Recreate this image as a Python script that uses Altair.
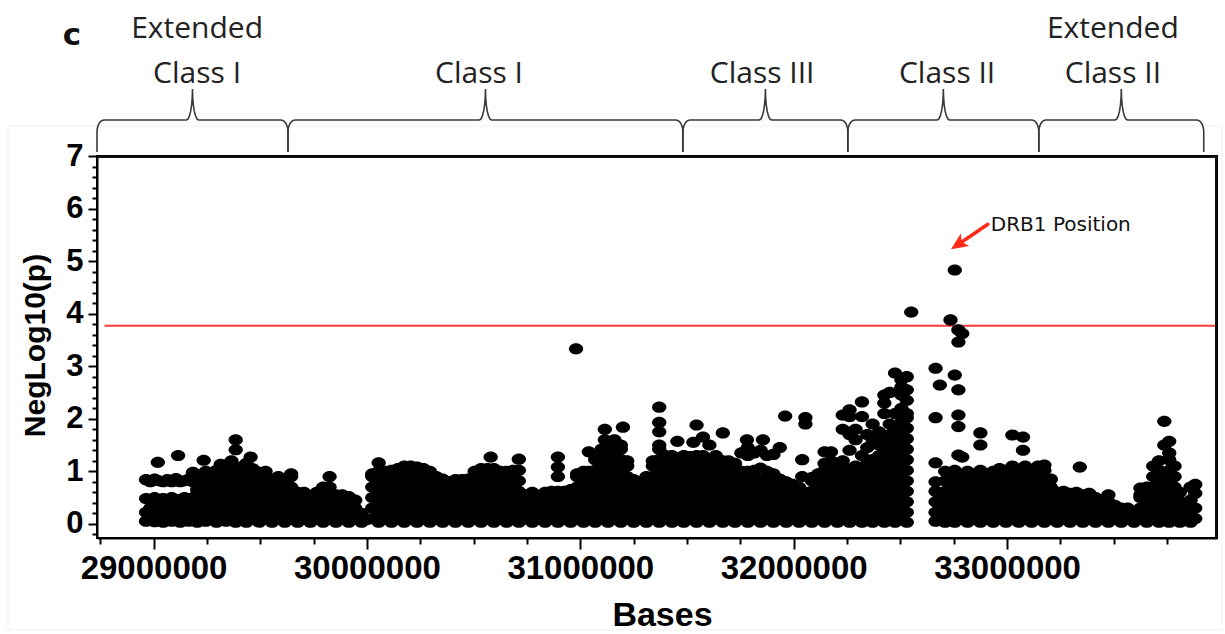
import math
import altair as alt
import pandas as pd

# ---------------- data (positions in kb, values = -log10 p) ----------------
ext_class1 = {
    28965: [0.05, 0.22, 0.48, 0.84], 28985: [0.12, 0.3, 0.46, 0.8],
    29005: [0.04, 0.2, 0.5, 0.85], 29020: [1.17], 29025: [0.1, 0.28, 0.46, 0.82],
    29045: [0.03, 0.2, 0.48, 0.8], 29065: [0.12, 0.3, 0.45, 0.84],
    29085: [0.05, 0.22, 0.5, 0.8], 29105: [0.1, 0.28, 0.46, 0.86], 29115: [1.3],
    29125: [0.03, 0.2, 0.45, 0.8], 29145: [0.12, 0.3, 0.5, 0.82],
    29165: [0.05, 0.22, 0.46, 0.85], 29185: [0.1, 0.28, 0.5, 0.8, 0.98],
    29205: [0.03, 0.2, 0.45, 0.65, 0.84], 29225: [0.12, 0.3, 0.5, 0.7, 0.9], 29235: [1.21],
    29245: [0.05, 0.22, 0.42, 0.62, 0.82, 1.0], 29270: [0.12, 0.32, 0.52, 0.72, 0.92],
    29295: [0.03, 0.22, 0.42, 0.62, 0.82, 1.02], 29315: [0.1, 0.3, 0.5, 0.7, 0.9, 1.13],
    29340: [0.05, 0.22, 0.42, 0.62, 0.82, 1.0],
    29365: [0.1, 0.3, 0.5, 0.7, 0.9, 1.05, 1.2],
    29385: [0.03, 0.22, 0.42, 0.62, 0.82, 1.02, 1.41, 1.6],
    29410: [0.1, 0.3, 0.5, 0.7, 0.9, 1.08],
    29435: [0.03, 0.22, 0.42, 0.62, 0.82, 1.0, 1.15], 29455: [1.27],
    29465: [0.1, 0.3, 0.5, 0.7, 0.9, 1.05], 29495: [0.03, 0.22, 0.42, 0.62, 0.82, 0.98],
    29525: [0.1, 0.3, 0.5, 0.7, 0.9, 1.0], 29555: [0.03, 0.22, 0.42, 0.62, 0.85],
    29585: [0.1, 0.3, 0.5, 0.7, 0.9], 29615: [0.03, 0.22, 0.42, 0.62, 0.82],
}
class1 = {
    29645: [0.1, 0.3, 0.5, 0.7, 0.9, 0.95], 29675: [0.03, 0.22, 0.42, 0.6],
    29705: [0.1, 0.3, 0.5, 0.6], 29735: [0.03, 0.22, 0.42, 0.5],
    29765: [0.1, 0.3, 0.5, 0.6], 29795: [0.03, 0.22, 0.42, 0.62, 0.7],
    29825: [0.1, 0.3, 0.5, 0.7, 0.9], 29855: [0.03, 0.22, 0.42, 0.55],
    29885: [0.1, 0.3, 0.5, 0.55], 29915: [0.03, 0.22, 0.42, 0.52],
    29945: [0.1, 0.3, 0.45], 29975: [0.03, 0.2], 30000: [0.08],
    30025: [0.1, 0.3, 0.5, 0.7, 0.9, 0.95], 30055: [0.03, 0.22, 0.42, 0.62, 0.82, 1.0, 1.16],
    30085: [0.1, 0.3, 0.5, 0.7, 0.9, 1.0], 30115: [0.03, 0.22, 0.42, 0.62, 0.82, 1.02],
    30145: [0.1, 0.3, 0.5, 0.7, 0.9, 1.05], 30175: [0.03, 0.22, 0.42, 0.62, 0.82, 1.02, 1.1],
    30205: [0.1, 0.3, 0.5, 0.7, 0.9, 1.1], 30235: [0.03, 0.22, 0.42, 0.62, 0.82, 1.02, 1.08],
    30265: [0.1, 0.3, 0.5, 0.7, 0.9, 1.05], 30295: [0.03, 0.22, 0.42, 0.62, 0.82, 1.0],
    30325: [0.1, 0.3, 0.5, 0.7, 0.9], 30355: [0.03, 0.22, 0.42, 0.62, 0.85],
    30385: [0.1, 0.3, 0.5, 0.7, 0.8], 30415: [0.03, 0.22, 0.42, 0.62, 0.84],
    30445: [0.1, 0.3, 0.5, 0.7, 0.84], 30475: [0.03, 0.22, 0.42, 0.62, 0.85],
    30505: [0.1, 0.3, 0.5, 0.7, 0.9, 1.0], 30535: [0.03, 0.22, 0.42, 0.62, 0.82, 1.05],
    30565: [0.1, 0.3, 0.5, 0.7, 0.9, 1.05], 30580: [1.27],
    30595: [0.03, 0.22, 0.42, 0.62, 0.82, 1.05], 30625: [0.1, 0.3, 0.5, 0.7, 0.9, 1.0],
    30655: [0.03, 0.22, 0.42, 0.62, 0.82, 1.0], 30685: [0.1, 0.3, 0.5, 0.7, 0.9, 1.02],
    30712: [0.03, 0.22, 0.42, 0.62, 0.82, 1.02, 1.23], 30745: [0.1, 0.3, 0.5, 0.55],
    30775: [0.03, 0.22, 0.42, 0.6], 30805: [0.1, 0.3, 0.5, 0.52],
    30835: [0.03, 0.22, 0.42, 0.6], 30865: [0.1, 0.3, 0.5, 0.62],
    30895: [0.03, 0.22, 0.42, 0.62, 0.9, 1.08, 1.27], 30925: [0.1, 0.3, 0.5, 0.62],
    30955: [0.03, 0.22, 0.42, 0.62, 0.65], 30980: [3.33],
    30985: [0.1, 0.3, 0.5, 0.7, 0.9, 0.95], 31015: [0.03, 0.22, 0.42, 0.62, 0.82, 1.0],
    31040: [0.1, 0.3, 0.5, 0.7, 0.9, 1.0, 1.37],
    31070: [0.03, 0.22, 0.42, 0.62, 0.82, 1.02, 1.22, 1.3],
    31100: [0.1, 0.3, 0.5, 0.7, 0.9, 1.1, 1.3, 1.42], 31115: [1.6, 1.8],
    31130: [0.03, 0.22, 0.42, 0.62, 0.82, 1.02, 1.22, 1.42, 1.5],
    31160: [0.1, 0.3, 0.5, 0.7, 0.9, 1.1, 1.3, 1.45, 1.6],
    31190: [0.03, 0.22, 0.42, 0.62, 0.82, 1.02, 1.22, 1.42, 1.5], 31200: [1.84],
    31220: [0.1, 0.3, 0.5, 0.7, 0.9, 1.1, 1.2], 31250: [0.03, 0.22, 0.42, 0.62, 0.84],
    31280: [0.1, 0.3, 0.5, 0.7, 0.8], 31310: [0.03, 0.22, 0.42, 0.62, 0.82, 0.9],
    31340: [0.1, 0.3, 0.5, 0.7, 0.9, 1.1, 1.2],
    31370: [0.03, 0.22, 0.42, 0.62, 0.82, 1.02, 1.22, 1.42, 1.5, 1.75, 1.93, 2.22],
    31400: [0.1, 0.3, 0.5, 0.7, 0.9, 1.1, 1.3], 31430: [0.03, 0.22, 0.42, 0.62, 0.82, 1.02, 1.22, 1.3],
    31455: [0.1, 0.3, 0.5, 0.7, 0.9, 1.1, 1.25, 1.57],
}
class3 = {
    31485: [0.03, 0.22, 0.42, 0.62, 0.82, 1.02, 1.22, 1.3],
    31515: [0.1, 0.3, 0.5, 0.7, 0.9, 1.1, 1.28], 31530: [1.55],
    31545: [0.03, 0.22, 0.42, 0.62, 0.82, 1.02, 1.22, 1.3, 1.88],
    31575: [0.1, 0.3, 0.5, 0.7, 0.9, 1.1, 1.3, 1.65],
    31605: [0.03, 0.22, 0.42, 0.62, 0.82, 1.02, 1.22, 1.5],
    31635: [0.1, 0.3, 0.5, 0.7, 0.9, 1.1, 1.3],
    31668: [0.03, 0.22, 0.42, 0.62, 0.82, 1.02, 1.2, 1.73],
    31695: [0.1, 0.3, 0.5, 0.7, 0.9, 1.1, 1.2], 31725: [0.03, 0.22, 0.42, 0.62, 0.82, 1.02, 1.15],
    31755: [0.1, 0.3, 0.5, 0.7, 0.9, 1.0, 1.35], 31781: [1.6],
    31785: [0.03, 0.22, 0.42, 0.62, 0.82, 1.0, 1.3, 1.45],
    31815: [0.1, 0.3, 0.5, 0.7, 0.9, 1.02, 1.35],
    31845: [0.03, 0.22, 0.42, 0.62, 0.82, 1.06, 1.4], 31856: [1.6],
    31875: [0.1, 0.3, 0.5, 0.7, 0.9, 1.0, 1.3], 31905: [0.03, 0.22, 0.42, 0.62, 0.82, 0.95, 1.32],
    31935: [0.1, 0.3, 0.5, 0.7, 0.85, 1.45], 31960: [2.05],
    31965: [0.03, 0.22, 0.42, 0.62, 0.8], 31995: [0.1, 0.3, 0.5, 0.7, 0.75],
    32025: [0.03, 0.22, 0.42, 0.62, 0.7], 32040: [0.9, 1.22],
    32055: [0.1, 0.3, 0.5, 0.6, 1.9, 2.02], 32085: [0.03, 0.22, 0.42, 0.62, 0.82, 0.88],
    32115: [0.1, 0.3, 0.5, 0.7, 0.9, 0.95],
    32145: [0.03, 0.22, 0.42, 0.62, 0.82, 1.02, 1.15, 1.37],
    32175: [0.1, 0.3, 0.5, 0.7, 0.9, 1.1, 1.2, 1.37],
    32205: [0.03, 0.22, 0.42, 0.62, 0.82, 1.02, 1.15],
    32230: [0.1, 0.3, 0.5, 0.7, 0.9, 1.1, 1.2, 1.8, 2.07],
}
class2 = {
    32262: [0.03, 0.22, 0.42, 0.62, 0.82, 1.02, 1.4, 1.7, 2.04, 2.17],
    32290: [0.1, 0.3, 0.5, 0.7, 0.9, 1.1, 1.6, 1.8],
    32320: [0.03, 0.22, 0.42, 0.62, 0.82, 1.02, 1.3, 2.04, 2.32],
    32345: [0.1, 0.3, 0.5, 0.7, 0.9, 1.15, 1.45, 1.7],
    32370: [0.03, 0.22, 0.42, 0.62, 0.82, 1.02, 1.22, 1.6, 1.9],
    32400: [0.1, 0.3, 0.5, 0.7, 0.9, 1.1, 1.3, 1.5, 1.75],
    32425: [0.03, 0.22, 0.42, 0.62, 0.82, 1.02, 1.22, 1.42, 1.62, 2.1, 2.3, 2.45],
    32450: [0.1, 0.3, 0.5, 0.7, 0.9, 1.1, 1.3, 1.5, 1.7, 1.9, 2.5],
    32475: [0.03, 0.22, 0.42, 0.62, 0.82, 1.02, 1.22, 1.42, 1.62, 1.82, 2.1, 2.87],
    32505: [0.1, 0.3, 0.5, 0.7, 0.9, 1.1, 1.3, 1.5, 1.7, 1.9, 2.02, 2.2, 2.45, 2.6, 2.74],
    32530: [0.03, 0.22, 0.42, 0.62, 0.82, 1.02, 1.22, 1.42, 1.62, 1.82, 2.02, 2.1, 2.35, 2.55, 2.8],
    32551: [4.03],
    32665: [0.05, 0.22, 0.42, 0.62, 0.8, 1.16, 2.02, 2.96], 32685: [0.12, 0.32, 0.55, 2.64],
    32710: [0.03, 0.22, 0.42, 0.62, 0.82, 1.0], 32735: [0.1, 0.3, 0.5, 0.7, 0.9, 3.88],
    32755: [0.03, 0.22, 0.42, 0.62, 0.82, 1.02, 2.83, 4.83],
    32772: [1.31, 1.85, 2.07, 2.55, 3.46, 3.69],
    32790: [0.1, 0.3, 0.5, 0.7, 0.9, 1.27, 3.62],
    32815: [0.03, 0.22, 0.42, 0.62, 0.82, 1.0], 32845: [0.1, 0.3, 0.5, 0.7, 0.9],
    32875: [0.03, 0.22, 0.42, 0.62, 0.82, 1.02, 1.5, 1.73], 32905: [0.1, 0.3, 0.5, 0.7, 0.9],
    32935: [0.03, 0.22, 0.42, 0.62, 0.82, 1.0], 32965: [0.1, 0.3, 0.5, 0.7, 0.9, 1.05],
    32995: [0.03, 0.22, 0.42, 0.62, 0.82, 1.02], 33025: [0.1, 0.3, 0.5, 0.7, 0.9, 1.1, 1.69],
    33055: [0.03, 0.22, 0.42, 0.62, 0.82, 1.02], 33075: [1.4, 1.65],
    33085: [0.1, 0.3, 0.5, 0.7, 0.9, 1.1], 33115: [0.03, 0.22, 0.42, 0.62, 0.82, 1.02],
}
ext_class2 = {
    33145: [0.1, 0.3, 0.5, 0.7, 0.9, 1.1], 33175: [0.03, 0.22, 0.42, 0.62, 0.82, 1.02, 1.12],
    33205: [0.1, 0.3, 0.5, 0.7, 0.85], 33235: [0.03, 0.22, 0.42, 0.6],
    33265: [0.1, 0.3, 0.5, 0.62], 33295: [0.03, 0.22, 0.42, 0.58],
    33325: [0.1, 0.3, 0.5, 0.6], 33341: [1.08], 33355: [0.03, 0.22, 0.42, 0.55],
    33385: [0.1, 0.3, 0.5, 0.58], 33415: [0.03, 0.22, 0.42, 0.5],
    33445: [0.1, 0.3, 0.42], 33475: [0.03, 0.22, 0.42, 0.55], 33505: [0.1, 0.3, 0.35],
    33535: [0.03, 0.22, 0.3], 33565: [0.1, 0.3], 33595: [0.03, 0.18],
    33625: [0.1, 0.3, 0.5, 0.55, 0.68], 33655: [0.03, 0.22, 0.42, 0.62, 0.7],
    33685: [0.1, 0.3, 0.5, 0.7, 0.9, 1.1], 33712: [0.03, 0.22, 0.42, 0.62, 0.82, 1.02, 1.2],
    33737: [0.1, 0.3, 0.5, 0.7, 0.9, 1.5, 1.95],
    33760: [0.03, 0.22, 0.42, 0.62, 0.82, 1.02, 1.22, 1.35, 1.57],
    33785: [0.1, 0.3, 0.5, 0.7, 0.9, 1.1], 33810: [0.03, 0.22, 0.42, 0.6],
    33835: [0.1, 0.3], 33860: [0.03, 0.15, 0.45, 0.7], 33882: [0.1, 0.3, 0.58, 0.75],
}
region_dicts = [ext_class1, class1, class3, class2, ext_class2]

region_bounds_kb = [28735, 29630, 31481, 32254, 33149, 33922]
label_top = ["Extended", "", "", "", "Extended"]
label_bottom = ["Class I", "Class I", "Class III", "Class II", "Class II"]
label_pos_kb = [29204, 30525, 31852, 32719, 33496]

threshold = 3.77
annot_text = "DRB1 Position"
annot_kb, annot_val = 32924, 5.58
arrow_tail_kb, arrow_tail_val = 32910, 5.70
arrow_head_kb, arrow_head_val = 32776, 5.33

# ---------------- layout ----------------
W, H = 1120, 382
XDOM = [28735000, 33984000]
YDOM = [-0.27, 7.0]
BPP = (XDOM[1] - XDOM[0]) / W
UPP = (YDOM[1] - YDOM[0]) / H

xs = alt.Scale(domain=XDOM, nice=False, zero=False)
ys = alt.Scale(domain=YDOM, nice=False, zero=False)

rows = []
for d in region_dicts:
    for kb, vals in d.items():
        for v in vals:
            rows.append({"pos": kb * 1000, "p": v})
snp = pd.DataFrame(rows)

x_tick_vals = [28750000 + 250000 * i for i in range(21)]
y_tick_vals = [round(-0.2 + 0.2 * i, 1) for i in range(37)]

xaxis = alt.Axis(
    values=x_tick_vals, format="d",
    labelExpr="datum.value % 1000000 == 0 ? datum.label : ''",
    labelFont="Liberation Sans", labelFontSize=33, labelFontWeight="bold", labelColor="black",
    labelPadding=3, labelOverlap=False, labelFlush=False,
    tickSize={"condition": {"test": "datum.value % 1000000 == 0", "value": 11}, "value": 6},
    tickColor="black", tickWidth=2, domainColor="black", domainWidth=2, grid=False,
    title="Bases", titleFont="Liberation Sans", titleFontSize=34, titleFontWeight="bold",
    titleColor="black", titleX=565, titleY=87, titleBaseline="alphabetic", titleAlign="center",
)
int_test = "abs(datum.value - round(datum.value)) < 0.01"
yaxis = alt.Axis(
    values=y_tick_vals,
    labelExpr=f"{int_test} ? format(datum.value, 'd') : ''",
    labelFont="Liberation Sans", labelFontSize=31, labelFontWeight="bold", labelColor="black",
    labelPadding=5, labelOverlap=False, labelFlush=False,
    tickSize={"condition": {"test": int_test, "value": 9}, "value": 5},
    tickColor="black", tickWidth=2, domainColor="black", domainWidth=2, grid=False,
    title="NegLog10(p)", titleFont="Liberation Sans", titleFontSize=30, titleFontWeight="bold",
    titleColor="black", titleX=-53, titleY=189, titleAngle=270,
    titleBaseline="alphabetic", titleAlign="center",
)

def X(field):
    return alt.X(field, scale=xs, axis=xaxis)

def Y(field):
    return alt.Y(field, scale=ys, axis=yaxis)

ELLIPSE = "M-1,0A1,0.78,0,1,0,1,0A1,0.78,0,1,0,-1,0Z"
points = alt.Chart(snp).mark_point(
    shape=ELLIPSE, filled=True, size=205, color="black", opacity=1
).encode(x=X("pos:Q"), y=Y("p:Q"))

thr = alt.Chart(pd.DataFrame({"x": [28770000], "x2": [XDOM[1]], "y": [threshold]})).mark_rule(
    color="#ff3b3b", strokeWidth=2
).encode(x=X("x:Q"), x2="x2:Q", y=Y("y:Q"))

# top and right edges of the plot frame (pixel positions, drawn above everything)
top_edge = alt.Chart(pd.DataFrame({"t": [0]})).mark_rule(
    color="#111111", strokeWidth=2, clip=False
).encode(x=alt.value(0), x2=alt.value(W + 1), y=alt.value(1), y2=alt.value(1))
right_edge = alt.Chart(pd.DataFrame({"t": [1]})).mark_rule(
    color="#111111", strokeWidth=2, clip=False
).encode(x=alt.value(W - 1), x2=alt.value(W - 1), y=alt.value(0), y2=alt.value(H))

# curly braces above the plot
def brace_rows(i, a, b):
    c = (a + b) / 2
    angs = [0, 15, 30, 45, 60, 75, 90]
    r = math.radians
    pts = [(a, 0, 4)]
    pts += [(a, 7 * (1 - math.cos(r(t))), 24 + 12 * math.sin(r(t))) for t in angs]
    pts += [(c, -6 + 6 * math.sin(r(t)), 36 + 31 * (1 - math.cos(r(t)))) for t in angs]
    pts += [(c, 6 - 6 * math.sin(r(t)), 36 + 31 * (1 - math.cos(r(t)))) for t in reversed(angs)]
    pts += [(b, -7 * (1 - math.cos(r(t))), 24 + 12 * math.sin(r(t))) for t in reversed(angs)]
    pts += [(b, 0, 4)]
    return [{"brace": i, "k": k, "pos": base + dx * BPP, "yv": YDOM[1] + up * UPP}
            for k, (base, dx, up) in enumerate(pts)]

brows = []
for i in range(len(region_bounds_kb) - 1):
    brows += brace_rows(i, region_bounds_kb[i] * 1000, region_bounds_kb[i + 1] * 1000)
braces = alt.Chart(pd.DataFrame(brows)).mark_line(
    color="#3a3a3a", strokeWidth=1.6, clip=False
).encode(x=X("pos:Q"), y=Y("yv:Q"), detail="brace:N", order="k:Q")

lab_df = pd.DataFrame({"pos": [k * 1000 for k in label_pos_kb], "l1": label_top, "l2": label_bottom})
lab1 = alt.Chart(lab_df).mark_text(
    font="Open Sans", fontSize=30, color="#222222", baseline="alphabetic", align="center"
).encode(x=X("pos:Q"), y=alt.value(-118), text="l1:N")
lab2 = alt.Chart(lab_df).mark_text(
    font="Open Sans", fontSize=30, color="#222222", baseline="alphabetic", align="center"
).encode(x=X("pos:Q"), y=alt.value(-73), text="l2:N")

panel = alt.Chart(pd.DataFrame({"t": ["c"]})).mark_text(
    font="DejaVu Sans", fontSize=31, fontWeight="bold", color="#111111",
    baseline="alphabetic", align="center"
).encode(x=alt.value(-25), y=alt.value(-111), text="t:N")

outer = alt.Chart(pd.DataFrame({"t": [2]})).mark_rect(
    fill="transparent", stroke="#f0f0f0", strokeWidth=1
).encode(x=alt.value(-89), x2=alt.value(1125), y=alt.value(-30), y2=alt.value(474))

arrow_df = pd.DataFrame({"x": [arrow_tail_kb * 1000], "x2": [arrow_head_kb * 1000],
                         "y": [arrow_tail_val], "y2": [arrow_head_val]})
shaft = alt.Chart(arrow_df).mark_rule(color="#ff2a1a", strokeWidth=3.5, strokeCap="round").encode(
    x=X("x:Q"), x2="x2:Q", y=Y("y:Q"), y2="y2:Q",
)
HEAD = "M0,-1L0.75,0.7L0,0.3L-0.75,0.7Z"
head = alt.Chart(arrow_df).mark_point(
    shape=HEAD, filled=True, size=400, color="#ff2a1a", opacity=1, angle=236
).encode(x=X("x2:Q"), y=Y("y2:Q"))

annot = alt.Chart(pd.DataFrame({"x": [annot_kb * 1000], "y": [annot_val], "t": [annot_text]})).mark_text(
    font="DejaVu Sans", fontSize=20, color="#111111", align="left", baseline="alphabetic"
).encode(x=X("x:Q"), y=Y("y:Q"), text="t:N")

chart = alt.layer(
    outer, thr, points, braces, lab1, lab2, panel, shaft, head, annot, top_edge, right_edge
).properties(
    width=W, height=H,
    padding={"left": 97, "top": 156, "right": 8, "bottom": 96},
    autosize=alt.AutoSizeParams(type="none"),
).configure(background="white").configure_view(stroke="black", strokeWidth=2)

chart.save("out.html", embed_options={"renderer": "svg", "actions": False})
